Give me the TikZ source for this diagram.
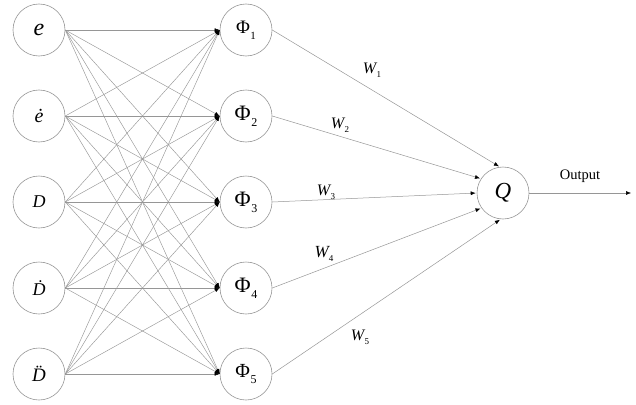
\documentclass[tikz,border=0pt]{standalone}
\usepackage{fontspec}
\setmainfont{Liberation Serif}
\usetikzlibrary{arrows.meta}
\definecolor{linegray}{RGB}{150,150,150}
\newcommand{\phisub}[3]{{\fontsize{#1}{#1}\selectfont Φ\kern0.5pt\raisebox{-6pt}{\fontsize{#2}{#2}\selectfont #3}}}
\newcommand{\wsub}[2]{{\fontsize{#1}{#1}\selectfont\itshape W\upshape\kern0.3pt\raisebox{-4pt}{\fontsize{9}{9}\selectfont #2}}}
\begin{document}
\begin{tikzpicture}[x=1pt,y=-1pt,
  neuron/.style={circle,draw=linegray,line width=0.6pt,minimum size=52pt,inner sep=0pt},
  link/.style={draw=linegray,line width=0.45pt,-{Latex[length=5pt,width=3.5pt,color=black]}},
  qlink/.style={draw=linegray,line width=0.5pt,-{Latex[length=5pt,width=4pt,color=black]},shorten >=1pt},
  wlabel/.style={inner sep=0pt}]
\useasboundingbox (0,0) rectangle (636,404);
% inputs
\node[neuron] (in1) at (39,30)  {\fontsize{24}{24}\selectfont\itshape e};
\node[neuron] (in2) at (39,116) {\fontsize{20}{20}\selectfont\itshape ė};
\node[neuron] (in3) at (39,202) {\fontsize{18}{18}\selectfont\itshape D};
\node[neuron] (in4) at (39,288) {\fontsize{18}{18}\selectfont\itshape Ḋ};
\node[neuron] (in5) at (39,374) {\fontsize{19}{19}\selectfont\itshape D̈};
% hidden
\node[neuron] (h1) at (246,30)  {\phisub{19}{11}{1}};
\node[neuron] (h2) at (246,116) {\phisub{22}{12}{2}};
\node[neuron] (h3) at (246,202) {\phisub{22}{12}{3}};
\node[neuron] (h4) at (246,288) {\phisub{22}{12}{4}};
\node[neuron] (h5) at (246,374) {\phisub{20}{12}{5}};
% output neuron
\node[neuron] (Q) at (503,193) {\fontsize{23}{23}\selectfont\itshape Q};
\coordinate (outend) at (632,193);
% connections
\foreach \i in {1,...,5}{
  \foreach \j in {1,...,5}{
    \draw[link] (in\i.east) -- (h\j.west);
  }
}
\draw[qlink] (h1.east) -- (Q.97);
\draw[qlink] (h2.east) -- (Q.147);
\draw[qlink] (h3.east) -- (Q.180);
\draw[qlink] (h4.east) -- (Q.215);
\draw[qlink] (h5.east) -- (Q.265);
\draw[qlink] (Q.east) -- (outend);
% labels
\node[wlabel] (w1) at (372,70)  {\wsub{16}{1}};
\node[wlabel] (w2) at (340,125) {\wsub{16}{2}};
\node[wlabel] (w3) at (326,192) {\wsub{16}{3}};
\node[wlabel] (w4) at (324,254) {\wsub{17}{4}};
\node[wlabel] (w5) at (360,337) {\wsub{16}{5}};
\node[inner sep=0pt] (outlbl) at (580,176) {\fontsize{14.5}{14.5}\selectfont Output};
\end{tikzpicture}
\end{document}
